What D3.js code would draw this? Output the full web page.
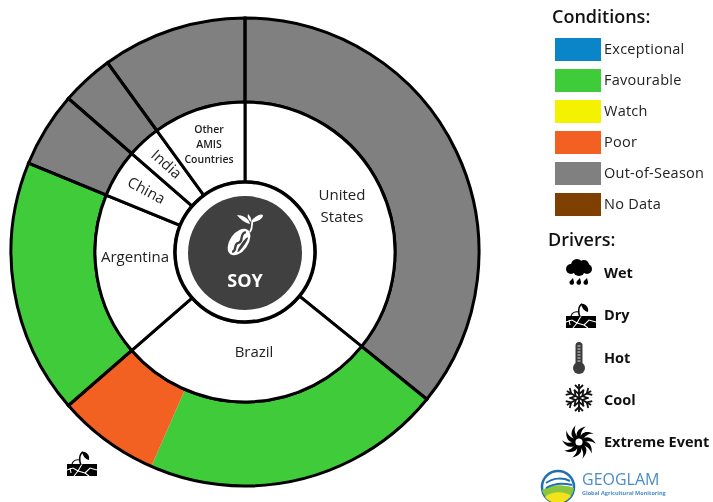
<!DOCTYPE html>
<html>
<head>
<meta charset="utf-8">
<script src="https://cdn.jsdelivr.net/npm/d3@7"></script>
<style>
	html, body { margin: 0; padding: 0; background: #fff; }
	svg { display: block; filter: blur(0.35px); }
	text { font-family: "Open Sans", sans-serif; fill: #222; }
</style>
</head>
<body>
<div id="chart"></div>
<script>
// crop shares, in degrees of the ring
const countries = ['United States', 'Brazil', 'Argentina', 'China', 'India', 'Other AMIS Countries'],
	countryShares = [129, 100, 63.3, 18.7, 13, 36],
	// outer ring: one piece per condition, brazil is split in two
	segmentShares = [129, 74.6, 25.4, 63.3, 18.7, 13, 36],
	segmentConditions = ['Out-of-Season', 'Favourable', 'Poor', 'Favourable', 'Out-of-Season', 'Out-of-Season', 'Out-of-Season'],
	conditions = ['Exceptional', 'Favourable', 'Watch', 'Poor', 'Out-of-Season', 'No Data'],
	conditionColors = ['#0a86c8', '#3fcb3a', '#f5f200', '#f26122', '#808080', '#7f3f00'],
	drivers = ['Wet', 'Dry', 'Hot', 'Cool', 'Extreme Event'];

const width = 713,
	height = 502,
	cx = 245,
	cy = 252,
	rOuter = 234,
	rInner = 150,
	rHub = 70,
	rCore = 57;

const svg = d3.select('#chart')
	.append('svg')
	.attr('width', width)
	.attr('height', height)
	.style('background', 'white');

const color = d3.scaleOrdinal().domain(conditions).range(conditionColors);
const pie = d3.pie().sort(null).value(d => d).startAngle(0).endAngle(2 * Math.PI);
const ring = d3.arc().innerRadius(rInner).outerRadius(rOuter);
const wedge = d3.arc().innerRadius(rHub).outerRadius(rInner);

const donut = svg.append('g').attr('transform', `translate(${cx},${cy})`);

// condition fills, no outline so brazil's two pieces run together
donut.selectAll('path.segment')
	.data(pie(segmentShares))
	.enter()
	.append('path')
		.attr('class', 'segment')
		.attr('d', ring)
		.attr('fill', (d, i) => color(segmentConditions[i]));

// black outlines per country
donut.selectAll('path.country-ring')
	.data(pie(countryShares))
	.enter()
	.append('path')
		.attr('class', 'country-ring')
		.attr('d', ring)
		.attr('fill', 'none')
		.attr('stroke', '#000')
		.attr('stroke-width', 3);

donut.selectAll('path.country')
	.data(pie(countryShares))
	.enter()
	.append('path')
		.attr('class', 'country')
		.attr('d', wedge)
		.attr('fill', '#fff')
		.attr('stroke', '#000')
		.attr('stroke-width', 3);

// hub
donut.append('circle').attr('r', rHub).attr('fill', '#fff').attr('stroke', '#000').attr('stroke-width', 3.5);
donut.append('circle').attr('r', rCore).attr('cy', 1).attr('fill', '#404040');

// country labels
const label = (x, y, txt, rot, size, weight) => {
	svg.append('text')
		.attr('transform', `translate(${x},${y}) rotate(${rot || 0})`)
		.attr('text-anchor', 'middle')
		.style('font-size', (size || 15) + 'px')
		.style('font-weight', weight || 400)
		.text(txt);
};
label(342, 200, 'United', 0, 15);
label(342, 222, 'States', 0, 15);
label(254, 357, countries[1], 0, 15);
label(135, 262, countries[2], 0, 15);
label(144, 195, countries[3], 28, 15);
label(163, 168, countries[4], 42, 15);
label(209, 133, 'Other', 0, 10.5, 600);
label(209, 148, 'AMIS', 0, 10.5, 600);
label(209, 163, 'Countries', 0, 10.5, 600);

svg.append('text')
	.attr('x', 245)
	.attr('y', 287)
	.attr('text-anchor', 'middle')
	.style('fill', '#fff')
	.style('font-size', '18px')
	.style('font-weight', 700)
	.text('SOY');

// soy seed icon
const soy = svg.append('g').attr('transform', 'translate(239,242) rotate(35)');
soy.append('ellipse').attr('rx', 9).attr('ry', 15).attr('fill', '#fff');
soy.append('path')
	.attr('d', 'M0,-12 C-5,-7 4,-3 0,1 C-4,5 4,8 0,12')
	.attr('fill', 'none')
	.attr('stroke', '#404040')
	.attr('stroke-width', 2.4);
soy.append('ellipse').attr('cx', 4.5).attr('rx', 1.6).attr('ry', 9).attr('fill', '#404040');
svg.append('path')
	.attr('d', 'M250,232 C254,226 250,222 254,219')
	.attr('fill', 'none')
	.attr('stroke', '#fff')
	.attr('stroke-width', 1.8);
svg.append('path').attr('d', 'M252,222 C254,216 261,213 263,215 C263,219 257,222 252,222 Z').attr('fill', '#fff');
svg.append('path').attr('d', 'M250,224 C245,223 240,219 237,215 C242,215 249,218 250,224 Z').attr('fill', '#fff');
svg.append('path').attr('d', 'M251,222 C248,219 247,217 248,214 C250,216 252,219 251,222 Z').attr('fill', '#fff');

// legend: conditions
svg.append('text').attr('x', 552).attr('y', 23).style('font-size', '18px').style('font-weight', 600).style('fill', '#111').text('Conditions:');

const boxY = d3.scalePoint().domain(conditions).range([38, 193]);
svg.selectAll('rect.key')
	.data(conditions)
	.enter()
	.append('rect')
		.attr('class', 'key')
		.attr('x', 555)
		.attr('y', d => boxY(d))
		.attr('width', 46)
		.attr('height', 23)
		.attr('fill', d => color(d));
svg.selectAll('text.key')
	.data(conditions)
	.enter()
	.append('text')
		.attr('class', 'key')
		.attr('x', 604)
		.attr('y', d => boxY(d) + 16)
		.style('font-size', '14.5px')
		.style('letter-spacing', '0.25px')
		.text(d => d);

// legend: drivers
svg.append('text').attr('x', 548).attr('y', 246).style('font-size', '18px').style('font-weight', 600).style('fill', '#111').text('Drivers:');

const driverY = d3.scalePoint().domain(drivers).range([278, 447]);
svg.selectAll('text.driver')
	.data(drivers)
	.enter()
	.append('text')
		.attr('class', 'driver')
		.attr('x', 604)
		.attr('y', d => driverY(d))
		.style('font-size', '14.5px')
		.style('font-weight', 700)
		.style('fill', '#111')
		.text(d => d);

// icons
const wetIcon = (x, y) => {
	const g = svg.append('g').attr('transform', `translate(${x},${y})`).attr('fill', '#000');
	[[-8, -4, 5], [-2, -8, 6], [5, -8, 5], [8, -4, 5], [0, -3, 6]].forEach(c => {
		g.append('circle').attr('cx', c[0]).attr('cy', c[1]).attr('r', c[2]);
	});
	[-8, -1, 6].forEach(d => {
		g.append('path').attr('d', `M${d + 2},5 L${d + 3},9 A2.3,2.3 0 1 1 ${d - 1},8 Z`);
	});
};

const dryIcon = (x, y) => {
	const g = svg.append('g').attr('transform', `translate(${x},${y})`);
	g.append('rect').attr('x', -15).attr('y', -1).attr('width', 30).attr('height', 12).attr('fill', '#000');
	g.append('path')
		.attr('d', 'M-15,5 L-9,3 L-4,6 L-8,11 M-4,6 L0,-1 M-4,6 L3,8 L7,11 M3,8 L8,3 L15,5 M-12,3 L-11,8')
		.attr('fill', 'none').attr('stroke', '#fff').attr('stroke-width', 1.1);
	// sprout, stem curls over with a drooping leaf
	g.append('path').attr('d', 'M-1,0 C-3,-4 -3,-11 1,-13').attr('fill', 'none').attr('stroke', '#000').attr('stroke-width', 1.5);
	g.append('path').attr('d', 'M0,-13 C4,-14 8,-10 7,-5 C3,-6 1,-9 0,-13 Z').attr('fill', '#000');
	g.append('path').attr('d', 'M-2,-5 C-6,-6 -9,-4 -10,-1').attr('fill', 'none').attr('stroke', '#000').attr('stroke-width', 1.1);
};

const hotIcon = (x, y) => {
	const g = svg.append('g').attr('transform', `translate(${x},${y})`);
	g.append('rect').attr('x', -3.5).attr('y', -16).attr('width', 7).attr('height', 26).attr('rx', 3.5).attr('fill', '#3c3c3c');
	g.append('circle').attr('cy', 10).attr('r', 6).attr('fill', '#3c3c3c');
	d3.range(6).forEach(i => {
		g.append('line').attr('x1', -1.5).attr('x2', 1.5).attr('y1', -12 + i * 3).attr('y2', -12 + i * 3).attr('stroke', '#ddd').attr('stroke-width', 1);
	});
};

const coolIcon = (x, y) => {
	const g = svg.append('g').attr('transform', `translate(${x},${y})`).attr('stroke', '#111').attr('fill', 'none');
	d3.range(6).forEach(i => {
		const arm = g.append('g').attr('transform', `rotate(${i * 60})`);
		arm.append('line').attr('y2', -14).attr('stroke-width', 1.8);
		arm.append('path').attr('d', 'M-4,-13 L0,-9 L4,-13 M-5,-8 L0,-4 L5,-8').attr('stroke-width', 1.8);
	});
};

const extremeIcon = (x, y) => {
	const g = svg.append('g').attr('transform', `translate(${x},${y})`);
	d3.range(10).forEach(i => {
		g.append('path')
			.attr('transform', `rotate(${i * 36})`)
			.attr('d', 'M-1.5,-4 C-4,-9 -1,-14 7,-15.5 C2,-12 1.5,-8 2,-4 Z')
			.attr('fill', '#000');
	});
	g.append('circle').attr('r', 4.5).attr('fill', 'none').attr('stroke', '#000').attr('stroke-width', 1.8);
};

wetIcon(579, 273);
dryIcon(581, 317);
hotIcon(579, 358);
coolIcon(579, 398);
extremeIcon(579, 442);

// the driver marker placed under the poor part of brazil
dryIcon(82, 465);

// geoglam logo
const logo = svg.append('g').attr('transform', 'translate(558,487)');
logo.append('circle').attr('r', 16).attr('fill', '#fff').attr('stroke', '#1f6fb5').attr('stroke-width', 2.5);
logo.append('path').attr('d', 'M-16,3 C-8,-3 6,-3 16,1 C15,10 7,16 0,16 C-8,16 -14,10 -16,3 Z').attr('fill', '#8cc63f');
logo.append('path').attr('d', 'M-13,10 C-6,4 6,4 13,9 C9,14 4,16 0,16 C-5,16 -10,14 -13,10 Z').attr('fill', '#f5e31a');
logo.append('path').attr('d', 'M-12,-4 C-4,-10 6,-9 12,-6 M-12,1 C-4,-4 6,-4 14,-2').attr('fill', 'none').attr('stroke', '#1f6fb5').attr('stroke-width', 2);

svg.append('text').attr('x', 582).attr('y', 485).style('fill', '#4a8cc8').style('font-size', '16px').text('GEOGLAM');
svg.append('text').attr('x', 582).attr('y', 495).style('fill', '#4a8cc8').style('font-size', '5.5px').style('font-weight', 700).text('Global Agricultural Monitoring');
</script>
</body>
</html>
